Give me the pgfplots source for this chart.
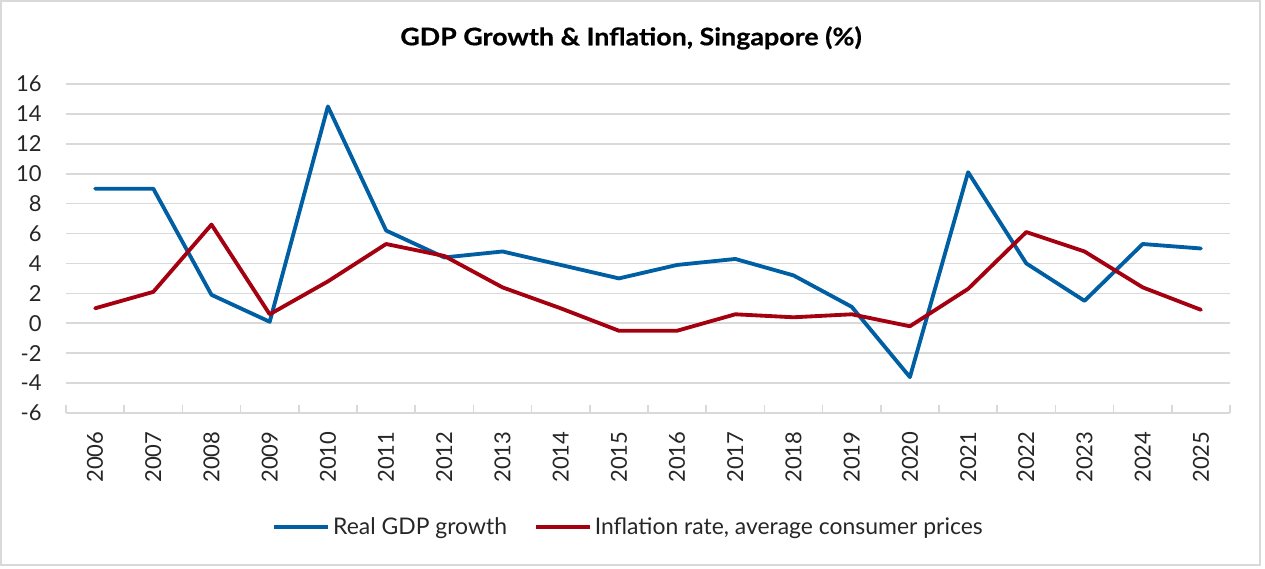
\documentclass[border=0pt]{standalone}
\usepackage{fontspec}
\setmainfont{Lato}
\newfontfamily\titlefont[FakeStretch=1.11,FakeBold=0.6]{Lato}
\usepackage{pgfplots}
\pgfplotsset{compat=1.18}
\definecolor{gdpblue}{RGB}{0,94,162}
\definecolor{infred}{RGB}{164,0,16}
\definecolor{gridgray}{RGB}{217,217,217}
\begin{document}
\begin{tikzpicture}
\path[use as bounding box] (0pt,0pt) rectangle (759pt,341.4pt);
\draw[gridgray, line width=1.4pt] (0.6pt,2.4pt) rectangle (756pt,340.8pt);
\node[font=\titlefont\bfseries\fontsize{14.5pt}{16pt}\selectfont] at (378.6pt,318.6pt) {GDP Growth \& Inflation, Singapore (\%)};
\begin{axis}[
  at={(39.6pt,93.6pt)}, anchor=south west,
  scale only axis, width=698.4pt, height=197.4pt,
  xmin=-0.5, xmax=19.5, ymin=-6, ymax=16,
  axis x line*=bottom, axis y line*=left,
  y axis line style={draw=none},
  x axis line style={gridgray, line width=1.2pt},
  xtick={0,...,19},
  xticklabels={2006,2007,2008,2009,2010,2011,2012,2013,2014,2015,2016,2017,2018,2019,2020,2021,2022,2023,2024,2025},
  minor xtick={-0.5,0.5,...,19.5},
  major tick length=0pt, minor tick length=4.6pt,
  tick align=inside,
  minor tick style={gridgray, line width=1pt},
  ytick={-6,-4,...,16},
  ymajorgrids, grid style={gridgray, line width=1pt},
  tick label style={font=\fontsize{13.2pt}{15pt}\selectfont, text=black!85},
  xticklabel style={rotate=90, anchor=east, inner sep=0pt},
  xticklabel shift=11pt,
  yticklabel style={anchor=east, inner sep=0pt},
  yticklabel shift=14.4pt,
  /pgf/number format/assume math mode=true,
  legend columns=2,
  legend style={draw=none, fill=none, at={(0.4837,-0.3465)}, anchor=center,
    font=\fontsize{13.75pt}{15pt}\selectfont, text=black!85,
    /tikz/every even column/.append style={column sep=14pt}},
  legend image code/.code={\draw[#1, line cap=butt] (0pt,0pt) -- (32.4pt,0pt);},
  every axis plot/.append style={line width=2.3pt, line join=round, line cap=round},
]
\addplot[gdpblue] coordinates {
(0,9.0) (1,9.0) (2,1.9) (3,0.1) (4,14.5) (5,6.2) (6,4.4) (7,4.8) (8,3.9) (9,3.0)
(10,3.9) (11,4.3) (12,3.2) (13,1.1) (14,-3.6) (15,10.1) (16,4.0) (17,1.5) (18,5.3) (19,5.0)};
\addlegendentry{Real GDP growth}
\addplot[infred] coordinates {
(0,1.0) (1,2.1) (2,6.6) (3,0.6) (4,2.8) (5,5.3) (6,4.5) (7,2.4) (8,1.0) (9,-0.5)
(10,-0.5) (11,0.6) (12,0.4) (13,0.6) (14,-0.2) (15,2.3) (16,6.1) (17,4.8) (18,2.4) (19,0.9)};
\addlegendentry{Inflation rate, average consumer prices}
\end{axis}
\end{tikzpicture}
\end{document}
